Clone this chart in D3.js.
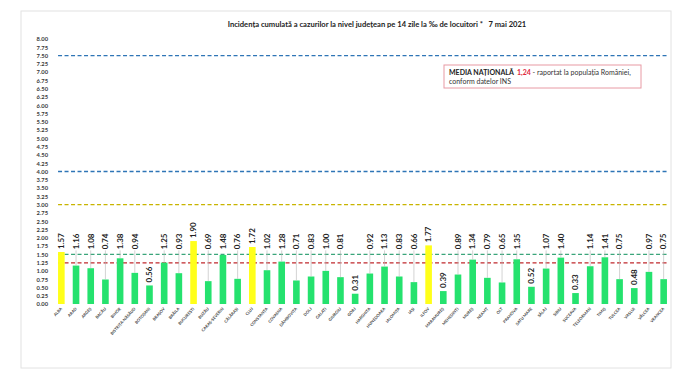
<!DOCTYPE html>
<html>
<head>
<meta charset="utf-8">
<script src="https://cdn.jsdelivr.net/npm/d3@7"></script>
<style>
  body { margin: 0; background: #fff; }
  text { font-family: Lato, "Liberation Sans", sans-serif; }
</style>
</head>
<body>
<script>
var w = 700;
var h = 391;

// data
var counties = ["ALBA", "ARAD", "ARGEȘ", "BACĂU", "BIHOR", "BISTRIȚA-NĂSĂUD", "BOTOȘANI", "BRAȘOV", "BRĂILA",
  "BUCUREȘTI", "BUZĂU", "CARAȘ-SEVERIN", "CĂLĂRAȘI", "CLUJ", "CONSTANȚA", "COVASNA", "DÂMBOVIȚA", "DOLJ",
  "GALAȚI", "GIURGIU", "GORJ", "HARGHITA", "HUNEDOARA", "IALOMIȚA", "IAȘI", "ILFOV", "MARAMUREȘ", "MEHEDINȚI",
  "MUREȘ", "NEAMȚ", "OLT", "PRAHOVA", "SATU MARE", "SĂLAJ", "SIBIU", "SUCEAVA", "TELEORMAN", "TIMIȘ",
  "TULCEA", "VASLUI", "VÂLCEA", "VRANCEA"];
var incidence = [1.57, 1.16, 1.08, 0.74, 1.38, 0.94, 0.56, 1.25, 0.93, 1.90, 0.69, 1.48, 0.76, 1.72, 1.02,
  1.28, 0.71, 0.83, 1.00, 0.81, 0.31, 0.92, 1.13, 0.83, 0.66, 1.77, 0.39, 0.89, 1.34, 0.79, 0.65, 1.35,
  0.52, 1.07, 1.40, 0.33, 1.14, 1.41, 0.75, 0.48, 0.97, 0.75];
var yTicks = d3.range(0, 8.01, 0.25);
var thresholds = [7.5, 4.0, 3.0, 1.5];
var thresholdColors = ["#2e75b6", "#2e75b6", "#c8b400", "#3aa57a"];
var nationalAvg = 1.24;
var titleText = "Incidența cumulată a cazurilor la nivel județean pe 14 zile la ‰ de locuitori *   7 mai 2021";

var svg = d3.select("body").append("svg")
  .attr("width", w)
  .attr("height", h);

// light frame around the chart
svg.append("rect")
  .attr("x", 21).attr("y", 11)
  .attr("width", 650).attr("height", 357)
  .attr("fill", "#fff")
  .attr("stroke", "#e2e2e2")
  .attr("stroke-width", 1);

var xScale = d3.scaleBand()
  .domain(counties)
  .range([54, 671])
  .paddingInner(0.55)
  .paddingOuter(0.275);

var yScale = d3.scaleLinear()
  .domain([0, 8])
  .range([304, 39]);

// y labels (no axis line in the original)
var yAxis = d3.axisLeft(yScale)
  .tickValues(yTicks)
  .tickFormat(d3.format(".2f"))
  .tickSize(0)
  .tickPadding(0);

var gy = svg.append("g")
  .attr("transform", "translate(48,0)")
  .call(yAxis);
gy.select(".domain").remove();
gy.selectAll("text")
  .attr("font-size", 5.8)
  .attr("font-weight", "bold")
  .attr("fill", "#3a3a3a")
  .attr("font-family", "Lato, sans-serif");

svg.append("text")
  .attr("x", 377)
  .attr("y", 27)
  .attr("text-anchor", "middle")
  .attr("font-size", 7.6)
  .attr("font-weight", "bold")
  .attr("fill", "#222")
  .style("white-space", "pre")
  .text(titleText);

var x0 = xScale(counties[0]);
var x1 = xScale(counties[counties.length - 1]) + xScale.bandwidth();

// threshold lines
svg.selectAll(".thr")
  .data(thresholds)
  .enter()
  .append("line")
  .attr("class", "thr")
  .attr("x1", x0).attr("x2", x1)
  .attr("y1", function(d) { return yScale(d); })
  .attr("y2", function(d) { return yScale(d); })
  .attr("stroke", function(d, i) { return thresholdColors[i]; })
  .attr("stroke-width", 1.3)
  .attr("stroke-dasharray", "4,2.5");

svg.append("line")
  .attr("x1", x0).attr("x2", x1)
  .attr("y1", yScale(nationalAvg)).attr("y2", yScale(nationalAvg))
  .attr("stroke", "#c0282d")
  .attr("stroke-width", 1.3)
  .attr("stroke-dasharray", "4,2.5");

// bars
svg.selectAll(".bar")
  .data(incidence)
  .enter()
  .append("rect")
  .attr("class", "bar")
  .attr("x", function(d, i) { return xScale(counties[i]); })
  .attr("y", function(d) { return yScale(d); })
  .attr("width", xScale.bandwidth())
  .attr("height", function(d) { return yScale(0) - yScale(d); })
  .attr("fill", function(d) { return d > 1.5 ? "#ffff1a" : "#25e26e"; });

// where the value label sits (bottom of the rotated text)
function labelY(d) {
  if (d < 0.6) return yScale(d) - 3;
  return Math.min(yScale(d) - 3, yScale(1.65));
}

// leader lines from label to bar top
svg.selectAll(".leader")
  .data(incidence)
  .enter()
  .append("line")
  .attr("class", "leader")
  .attr("x1", function(d, i) { return xScale(counties[i]) + xScale.bandwidth() / 2; })
  .attr("x2", function(d, i) { return xScale(counties[i]) + xScale.bandwidth() / 2; })
  .attr("y1", function(d) { return labelY(d) + 1; })
  .attr("y2", function(d) { return yScale(d); })
  .attr("stroke", "#b5b5b5")
  .attr("stroke-width", 0.6)
  .attr("opacity", function(d) { return yScale(d) - labelY(d) > 6 ? 1 : 0; });

svg.selectAll(".val")
  .data(incidence)
  .enter()
  .append("text")
  .attr("class", "val")
  .attr("transform", function(d, i) {
    var cx = xScale(counties[i]) + xScale.bandwidth() / 2 + 2.8;
    return "translate(" + cx + "," + labelY(d) + ") rotate(-90)";
  })
  .attr("font-size", 8)
  .attr("font-weight", "bold")
  .attr("fill", "#222")
  .text(function(d) { return d3.format(".2f")(d); });

// county names, slanted
svg.selectAll(".cname")
  .data(counties)
  .enter()
  .append("text")
  .attr("class", "cname")
  .attr("transform", function(d) {
    var cx = xScale(d) + xScale.bandwidth() / 2 + 1;
    return "translate(" + cx + ",309) rotate(-48)";
  })
  .attr("text-anchor", "end")
  .attr("font-size", 4)
  .attr("font-weight", "bold")
  .attr("fill", "#444")
  .text(function(d) { return d; });

// national average box
var box = svg.append("g").attr("transform", "translate(444,65)");
box.append("rect")
  .attr("width", 197).attr("height", 23)
  .attr("fill", "#fff")
  .attr("stroke", "#e89aa4")
  .attr("stroke-width", 1);

var t1 = box.append("text")
  .attr("x", 5).attr("y", 9.5)
  .attr("font-size", 7)
  .attr("fill", "#333")
  .style("white-space", "pre");
t1.append("tspan").attr("font-weight", "bold").attr("fill", "#222").text("MEDIA NAȚIONALĂ  ");
t1.append("tspan").attr("font-weight", "bold").attr("fill", "#e0283c").text(d3.format(".2f")(nationalAvg).replace(".", ","));
t1.append("tspan").text(" - raportat la populația României,");

box.append("text")
  .attr("x", 5).attr("y", 19)
  .attr("font-size", 7)
  .attr("fill", "#333")
  .text("conform datelor INS");
</script>
</body>
</html>
